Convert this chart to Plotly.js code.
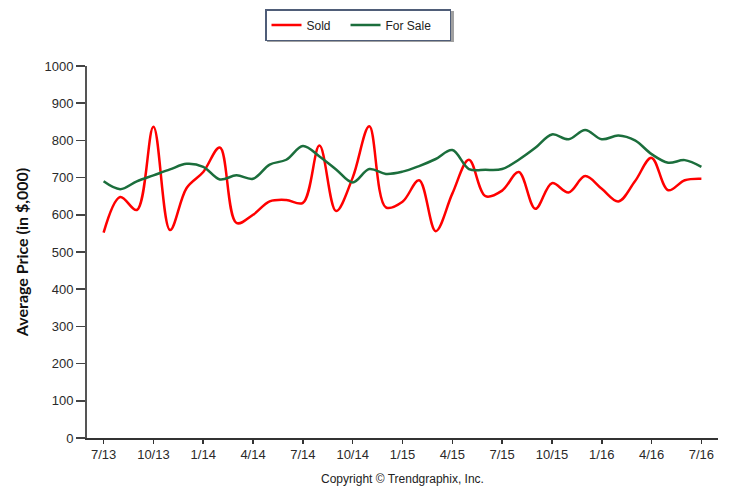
<!DOCTYPE html>
<html>
<head>
<meta charset="utf-8">
<script src="https://cdn.plot.ly/plotly-3.0.1.min.js"></script>
<style>
  html, body { margin: 0; padding: 0; background: #ffffff; }
  #chart { width: 730px; height: 487px; }
</style>
</head>
<body>
<div id="chart"></div>
<script>
// Months from 7/13 to 7/16
var months = ['7/13','8/13','9/13','10/13','11/13','12/13',
              '1/14','2/14','3/14','4/14','5/14','6/14','7/14','8/14','9/14','10/14','11/14','12/14',
              '1/15','2/15','3/15','4/15','5/15','6/15','7/15','8/15','9/15','10/15','11/15','12/15',
              '1/16','2/16','3/16','4/16','5/16','6/16','7/16'];

var soldValues = [552, 648, 613, 837, 559, 672, 715, 781, 578, 600, 636, 640,
                  632, 786, 610, 700, 838, 620, 635, 693, 556, 657, 748, 650,
                  665, 715, 616, 685, 660, 704, 670, 636, 690, 753, 666, 693, 697];

var forSaleValues = [690, 669, 690, 706, 722, 737, 729, 695, 706, 697, 735, 748,
                     785, 757, 722, 687, 723, 710, 716, 731, 750, 774, 723, 721,
                     723, 748, 780, 816, 803, 828, 803, 813, 800, 763, 740, 747, 729];

var tickLabels = ['7/13','10/13','1/14','4/14','7/14','10/14','1/15','4/15','7/15','10/15','1/16','4/16','7/16'];
var yTicks = [0,100,200,300,400,500,600,700,800,900,1000];

var NB = '\u00a0';
var traces = [
  {
    x: months, y: soldValues, name: 'Sold' + NB + NB + NB, type: 'scatter', mode: 'lines',
    line: {color: '#ff0000', width: 2.5, shape: 'spline', smoothing: 1}
  },
  {
    x: months, y: forSaleValues, name: 'For Sale' + NB + NB + NB + NB, type: 'scatter', mode: 'lines',
    line: {color: '#1b6e3c', width: 2.5, shape: 'spline', smoothing: 1}
  }
];

var tickFont = {family: 'Liberation Sans, Arial, sans-serif', size: 13, color: '#2a2a2a'};

var layout = {
  width: 730, height: 487,
  margin: {l: 87, r: 12, t: 66, b: 49, pad: 0, autoexpand: false},
  paper_bgcolor: '#ffffff', plot_bgcolor: '#ffffff',
  showlegend: true,
  legend: {
    orientation: 'h', xref: 'container', yref: 'container',
    x: 265 / 730, y: 1 - 9 / 487, xanchor: 'left', yanchor: 'top',
    bgcolor: '#ffffff', bordercolor: '#4f5d78', borderwidth: 1.5,
    font: {family: 'Liberation Sans, Arial, sans-serif', size: 12, color: '#222'}
  },
  xaxis: {
    type: 'category', range: [-1, 37],
    tickmode: 'array', tickvals: tickLabels, ticktext: tickLabels,
    ticks: 'outside', ticklen: 4, tickwidth: 1.5, tickcolor: '#333',
    showline: true, linecolor: '#333', linewidth: 1.5,
    showgrid: false, zeroline: false,
    tickfont: tickFont,
    title: {text: 'Copyright \u00a9 Trendgraphix, Inc.', standoff: 13,
            font: {family: 'Liberation Sans, Arial, sans-serif', size: 12, color: '#222'}}
  },
  yaxis: {
    range: [0, 1000], tickmode: 'array', tickvals: yTicks,
    ticks: 'outside', ticklen: 9, tickwidth: 1.5, tickcolor: '#444',
    showline: true, linecolor: '#555', linewidth: 2,
    showgrid: false, zeroline: false,
    tickfont: tickFont,
    title: {text: 'Average Price (in $,000)', standoff: 12,
            font: {family: 'Lato, Open Sans, sans-serif', size: 16, color: '#111', weight: 'bold'}}
  },
  shapes: [
    {type: 'rect', xref: 'paper', yref: 'paper',
     x0: 0.2853, x1: 0.5816, y0: 1.0645, y1: 1.1478,
     fillcolor: '#a0a0a0', line: {width: 0}, layer: 'below'}
  ]
};

Plotly.newPlot('chart', traces, layout, {staticPlot: true, displayModeBar: false});
</script>
</body>
</html>
